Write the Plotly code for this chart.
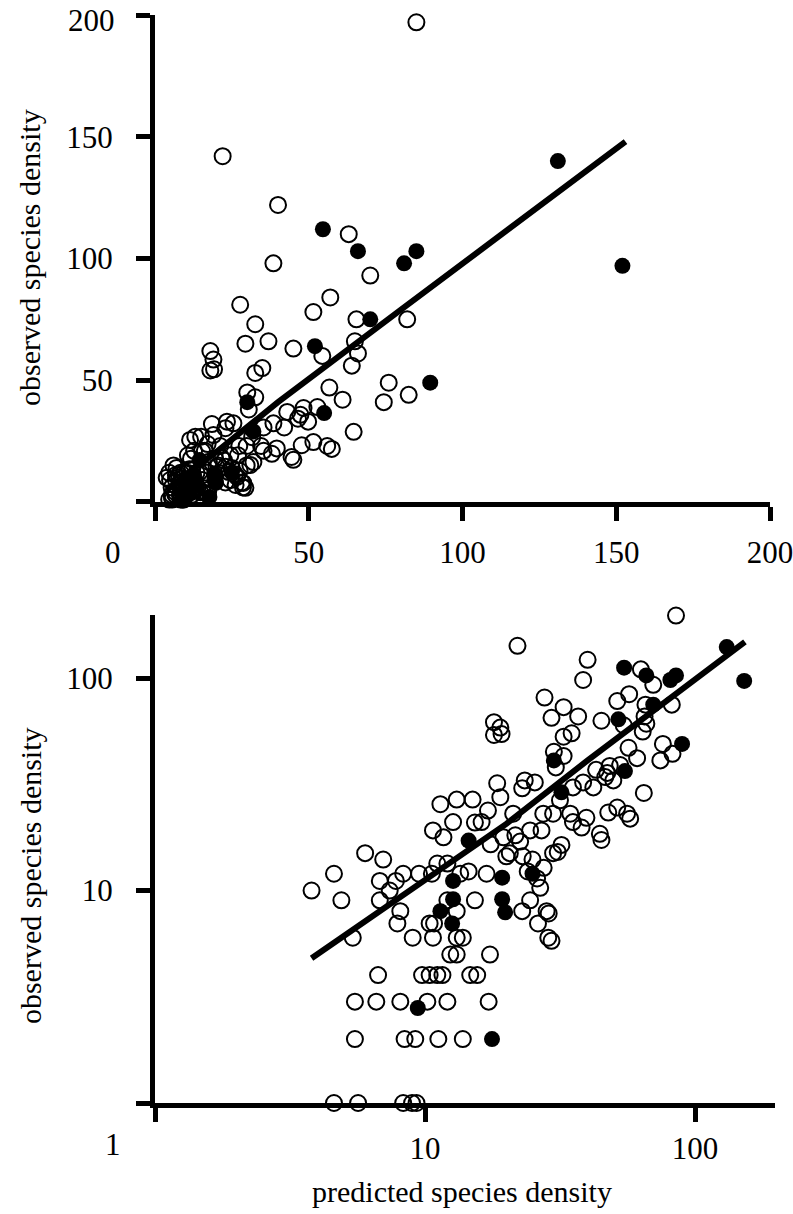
import plotly.graph_objects as go

# open circles: (predicted, observed)
open_x = [85, 22, 40, 38.5, 63, 70, 57, 51.5, 65.5, 82, 65, 66, 64, 54.4, 45, 27.7, 32.6, 29.4, 36.9, 18,
          19, 18, 19.2, 76, 74.4, 82.5, 56.7, 61, 64.6, 32.6, 34.9, 30, 32.6, 30.5, 43, 47.3, 48.3, 52.8, 38.5, 42,
          35.3, 45, 44.4, 47.7, 51.5, 56, 57.5, 38, 39.6, 35.3, 34.5, 32, 31, 28.7, 29.4, 26.7, 24.5, 23.4, 25.5, 22.9,
          18.5, 19, 13.1, 15, 11.4, 17.1, 16.2, 21.2, 21.6, 24.5, 27, 27.4, 29.8, 31.6, 46.5, 49.8, 12.7, 10.7, 11.7, 15.3,
          20.6, 23, 25, 24, 26, 27.5, 29.8, 22.5, 17.5, 19.5, 20, 10.6, 13.5, 14.5, 16.9, 9.5, 8.3, 4.6, 6.0, 7.0,
          11.1, 12.1, 6.8, 7.8, 3.8, 7.4, 4.9, 6.8, 12.1, 15.3, 8.1, 13.1, 22.9, 28.2, 7.9, 10.4, 10.8, 26.2, 5.4, 9.0,
          10.7, 13.1, 13.8, 28.6, 12.4, 13.1, 17.4, 6.7, 9.75, 10.4, 11.1, 11.6, 14.7, 15.6, 5.5, 6.6, 8.1, 10.2, 12.1, 17.2,
          5.5, 8.4, 9.2, 11.2, 13.8, 4.6, 5.65, 8.3, 8.95, 9.3]
open_y = [197, 142, 122, 98, 110, 93, 84, 78, 75, 75, 66, 61, 56, 60, 63, 81, 73, 65, 66, 62,
          58.5, 54, 54.5, 49, 41, 44, 47, 42, 28.8, 53, 55, 45, 43, 38, 37, 35.8, 38.6, 39, 32.3, 30.6,
          30.6, 17.3, 18.5, 23.3, 24.6, 23, 21.8, 19.8, 22, 21, 23, 16.4, 15.2, 7.8, 5.8, 10.3, 9, 33, 32.3, 30.3,
          32, 27.5, 26.8, 26.8, 25.5, 23.8, 21, 23, 18.2, 19.2, 19.2, 23, 23, 26.6, 34.2, 33, 21, 19.2, 17.8, 20.9,
          15, 14.5, 14, 12.3, 11.4, 12.8, 15, 17, 16.5, 17.8, 14.5, 12, 12, 12.3, 12, 12, 12, 12, 15, 14,
          13.4, 13.4, 11.1, 11.1, 10, 10, 9, 9, 9, 9, 8, 8, 8, 8, 7, 7, 7, 7, 6, 6,
          6, 6, 6, 6, 5, 5, 5, 4, 4, 4, 4, 4, 4, 4, 3, 3, 3, 3, 3, 3,
          2, 2, 2, 2, 2, 1, 1, 1, 1, 1]

# filled circles
filled_x = [131, 152, 54.6, 66, 81, 85, 70, 52, 89.5, 55, 30, 32, 14.5, 25, 19.3, 12.7, 19.3, 12.7, 11.4, 19.8,
            12.6, 9.4, 17.7]
filled_y = [140, 97, 112, 103, 98, 103, 75, 64, 49, 36.5, 41, 29, 17.2, 12, 11.5, 11.1, 9.1, 9.1, 8.0, 7.9,
            7.0, 2.8, 2.0]

# fitted line
fit_x = [3.8, 10, 20, 40, 80, 153]
fit_y = [4.8, 11.2, 20.6, 41, 79, 148]

lin_ticks = [0, 50, 100, 150, 200]
x_lin_text = ["", "50", "100", "150", "200"]
y_lin_text = ["", "50", "100", "150", ""]   # "200" is placed as an annotation, nudged down to stay on the page
log_ticks = [1, 10, 100]
log_text = ["", "10", "100"]

FONT = "Liberation Serif"
open_marker = dict(symbol="circle-open", size=16, color="black", line=dict(width=2, color="black"))
filled_marker = dict(symbol="circle", size=16, color="black", line=dict(width=0))

fig = go.Figure()
for xa, ya in [("x", "y"), ("x2", "y2")]:
    fig.add_trace(go.Scatter(x=open_x, y=open_y, mode="markers", marker=open_marker,
                             xaxis=xa, yaxis=ya, cliponaxis=False, showlegend=False))
    fig.add_trace(go.Scatter(x=filled_x, y=filled_y, mode="markers", marker=filled_marker,
                             xaxis=xa, yaxis=ya, cliponaxis=False, showlegend=False))
    fig.add_trace(go.Scatter(x=fit_x, y=fit_y, mode="lines", line=dict(color="black", width=6),
                             xaxis=xa, yaxis=ya, showlegend=False))

axis_common = dict(
    showline=True, linecolor="black", linewidth=5, mirror=False,
    ticks="outside", ticklen=14, tickwidth=5, tickcolor="black",
    showgrid=False, zeroline=False, automargin=False, ticklabeloverflow="allow",
    tickfont=dict(family=FONT, size=31, color="black"),
)

fig.update_layout(
    width=793, height=1214,
    margin=dict(l=155, r=18, t=15, b=111),
    paper_bgcolor="white", plot_bgcolor="white",
    font=dict(family=FONT, size=30, color="black"),
    xaxis=dict(axis_common, domain=[0, 0.992], range=[0, 200], tickvals=lin_ticks, ticktext=x_lin_text,
               anchor="y", ticklabelstandoff=5),
    yaxis=dict(axis_common, domain=[0.5524, 1], range=[0, 200], tickvals=lin_ticks, ticktext=y_lin_text,
               anchor="x", ticklabelstandoff=17),
    xaxis2=dict(axis_common, domain=[0, 1], type="log", range=[0, 2.296], tickvals=log_ticks,
                ticktext=log_text, anchor="y2", ticklabelstandoff=0),
    yaxis2=dict(axis_common, domain=[0, 0.4485], type="log", range=[0, 2.297], tickvals=log_ticks,
                ticktext=log_text, anchor="x2", ticklabelstandoff=17),
    annotations=[
        dict(text="observed species density", xref="paper", yref="paper", x=-0.2016, y=0.7767,
             textangle=-90, showarrow=False, xanchor="center", yanchor="middle"),
        dict(text="observed species density", xref="paper", yref="paper", x=-0.2016, y=0.2086,
             textangle=-90, showarrow=False, xanchor="center", yanchor="middle"),
        dict(text="predicted species density", xref="paper", yref="paper", x=0.495, y=-0.0818,
             showarrow=False, xanchor="center", yanchor="middle"),
        dict(text="200", xref="paper", yref="y", x=-0.062, y=200, yshift=-5,
             showarrow=False, xanchor="right", yanchor="middle", font=dict(size=31)),
        dict(text="0", xref="paper", yref="paper", x=-0.0677, y=0.5064,
             showarrow=False, xanchor="center", yanchor="middle", font=dict(size=31)),
        dict(text="1", xref="paper", yref="paper", x=-0.0677, y=-0.0386,
             showarrow=False, xanchor="center", yanchor="middle", font=dict(size=31)),
    ],
)

# drop the default page margin so the figure fills the window exactly
fig.write_html("out.html", post_script="document.body.style.margin='0';",
               config={"displayModeBar": False})
